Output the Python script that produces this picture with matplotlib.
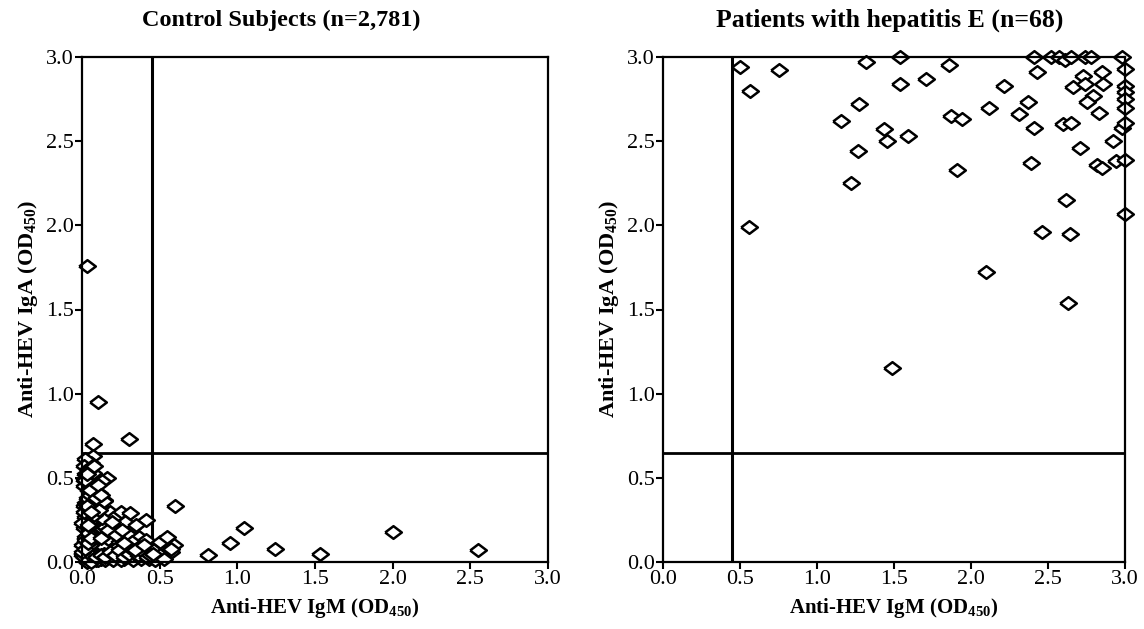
import matplotlib
matplotlib.use("Agg")
import matplotlib.pyplot as plt

plt.rcParams['font.family'] = ['Liberation Serif', 'DejaVu Serif']
plt.rcParams['mathtext.fontset'] = 'custom'
plt.rcParams['mathtext.rm'] = 'Liberation Serif:bold'
plt.rcParams['mathtext.it'] = 'Liberation Serif:bold'
plt.rcParams['mathtext.bf'] = 'Liberation Serif:bold'

# ---- data ----
titles = ["Control Subjects (n=2,781)", "Patients with hepatitis E (n=68)"]
xlabel = "Anti-HEV IgM (OD$_{450}$)"
ylabel = "Anti-HEV IgA (OD$_{450}$)"
ticks = [0.0, 0.5, 1.0, 1.5, 2.0, 2.5, 3.0]
tick_labels = ["0.0", "0.5", "1.0", "1.5", "2.0", "2.5", "3.0"]
igm_cutoff = 0.45
iga_cutoff = 0.65

control_igm = [0.03, 0.10, 0.07, 0.30, 0.60, 1.04, 0.95, 0.81, 1.24, 1.53, 2.00, 2.55,
               0.54, 0.57, 0.48, 0.52,
               0.07, 0.06, 0.02, 0.07, 0.16, 0.13, 0.06, 0.11, 0.05, 0.07, 0.04,
               0.18, 0.25, 0.31, 0.41, 0.12, 0.07, 0.15, 0.21, 0.26, 0.32, 0.17,
               0.09, 0.04, 0.23, 0.30, 0.37, 0.07, 0.16, 0.24, 0.32, 0.41, 0.04,
               0.13, 0.21, 0.30, 0.37, 0.50, 0.55, 0.59, 0.45, 0.08, 0.14, 0.23,
               0.30, 0.41, 0.00, 0.02, 0.02, 0.01, 0.01,
               0.03, 0.05, 0.02, 0.04, 0.08, 0.10, 0.03, 0.06, 0.01, 0.02, 0.05,
               0.09, 0.12, 0.03, 0.00, 0.01, 0.04, 0.06, 0.11, 0.19, 0.27, 0.35,
               0.20, 0.28, 0.10, 0.14, 0.02, 0.04, 0.08, 0.01, 0.03, 0.00, 0.05,
               0.10, 0.15, 0.20, 0.25, 0.33, 0.38, 0.43, 0.47, 0.02, 0.06, 0.09,
               0.01, 0.03, 0.05, 0.02, 0.04, 0.06, 0.08, 0.01, 0.03, 0.05, 0.07,
               0.02, 0.04, 0.00, 0.02, 0.04, 0.06, 0.09, 0.12, 0.15, 0.18, 0.21,
               0.24, 0.27, 0.30, 0.33, 0.36, 0.39, 0.42, 0.12, 0.17, 0.22, 0.27,
               0.34, 0.40, 0.44, 0.13, 0.19, 0.26, 0.08, 0.11, 0.14, 0.35, 0.50,
               0.46, 0.53, 0.57, 0.05, 0.09, 0.03, 0.08, 0.10, 0.12, 0.06, 0.04]
control_iga = [1.76, 0.95, 0.70, 0.73, 0.33, 0.20, 0.11, 0.04, 0.075, 0.05, 0.18, 0.07,
               0.11, 0.06, 0.09, 0.03,
               0.63, 0.59, 0.61, 0.53, 0.50, 0.48, 0.47, 0.41, 0.39, 0.35, 0.31,
               0.30, 0.30, 0.29, 0.25, 0.25, 0.21, 0.21, 0.22, 0.20, 0.20, 0.18,
               0.17, 0.16, 0.17, 0.16, 0.15, 0.13, 0.13, 0.12, 0.12, 0.13, 0.09,
               0.09, 0.08, 0.08, 0.09, 0.12, 0.15, 0.10, 0.08, 0.06, 0.05, 0.04,
               0.05, 0.06, 0.04, 0.15, 0.27, 0.45, 0.57,
               0.02, 0.01, 0.05, 0.08, 0.02, 0.03, 0.10, 0.12, 0.20, 0.35, 0.25,
               0.01, 0.02, 0.00, 0.10, 0.33, 0.43, 0.28, 0.33, 0.02, 0.02, 0.03,
               0.26, 0.24, 0.27, 0.37, 0.52, 0.55, 0.44, 0.49, 0.38, 0.23, 0.18,
               0.01, 0.01, 0.01, 0.01, 0.01, 0.02, 0.02, 0.01, 0.06, 0.00, 0.04,
               0.03, 0.06, 0.10, 0.13, 0.17, 0.22, 0.26, 0.30, 0.33, 0.40, 0.44,
               0.49, 0.54, 0.06, 0.08, 0.11, 0.14, 0.03, 0.04, 0.03, 0.06, 0.04,
               0.07, 0.03, 0.05, 0.07, 0.04, 0.06, 0.03, 0.14, 0.19, 0.16, 0.11,
               0.07, 0.10, 0.04, 0.26, 0.24, 0.19, 0.28, 0.31, 0.36, 0.22, 0.04,
               0.05, 0.02, 0.08, 0.43, 0.38, 0.52, 0.57, 0.46, 0.40, 0.30, 0.22]

patient_igm = [0.50, 0.565, 0.75, 0.56,
               1.318, 1.539, 1.857, 2.41, 2.52, 2.57, 2.61, 2.65, 2.74, 2.78, 2.98, 3.00,
               2.43, 1.539, 1.71, 1.275, 1.156, 1.437, 1.456, 1.593, 1.268, 1.22,
               1.87, 1.94, 2.12, 2.216, 1.91, 2.37, 2.31, 2.41, 2.39, 2.62, 2.46, 2.64,
               2.10, 2.60, 2.65, 2.71, 2.66, 2.73, 2.74, 2.79, 2.755, 2.83, 2.85, 2.86,
               2.92, 2.82, 2.85, 2.94, 3.00, 3.00, 3.00, 3.00, 2.98, 3.00, 3.00, 3.00,
               2.63, 1.485]
patient_iga = [2.94, 2.80, 2.92, 1.99,
               2.97, 3.00, 2.95, 3.00, 3.00, 3.00, 2.98, 3.00, 3.00, 3.00, 3.00, 2.93,
               2.91, 2.84, 2.87, 2.72, 2.62, 2.57, 2.50, 2.53, 2.44, 2.25,
               2.65, 2.63, 2.70, 2.83, 2.33, 2.73, 2.66, 2.58, 2.37, 2.15, 1.96, 1.95,
               1.72, 2.60, 2.61, 2.46, 2.82, 2.89, 2.84, 2.77, 2.73, 2.67, 2.91, 2.84,
               2.50, 2.36, 2.34, 2.38, 2.83, 2.79, 2.75, 2.70, 2.58, 2.61, 2.39, 2.07,
               1.54, 1.15]

# ---- figure ----
fig = plt.figure(figsize=(11.44, 6.29), dpi=100)
axL = fig.add_axes([82/1144, 1-562/629, 466/1144, 505/629])
axR = fig.add_axes([663/1144, 1-562/629, 462/1144, 505/629])

diamond = [(-1, 0), (0, 0.76), (1, 0), (0, -0.76), (-1, 0)]

for ax, xs, ys, title, tx, tsize in [(axL, control_igm, control_iga, titles[0], 0.427, 17.5),
                                     (axR, patient_igm, patient_iga, titles[1], 0.49, 18.5)]:
    ax.set_xlim(0, 3.0)
    ax.set_ylim(0, 3.0)
    ax.plot(xs, ys, linestyle='none', marker=diamond, markersize=12,
            markerfacecolor='white', markeredgecolor='black', markeredgewidth=1.8,
            clip_on=False, zorder=3)
    ax.axvline(igm_cutoff, color='black', lw=2.2, zorder=2)
    ax.axhline(iga_cutoff, color='black', lw=2.0, zorder=2)
    for s in ax.spines.values():
        s.set_linewidth(1.6)
        s.set_zorder(4)
    ax.set_xticks(ticks)
    ax.set_xticklabels(tick_labels)
    ax.set_yticks(ticks)
    ax.set_yticklabels(tick_labels)
    ax.tick_params(direction='out', length=5, width=1.5, labelsize=16, pad=1)
    ax.set_xlabel(xlabel, fontsize=15, fontweight='bold', labelpad=5)
    ax.set_ylabel(ylabel, fontsize=16, fontweight='bold', labelpad=4)
    ax.set_title(title, fontsize=tsize, fontweight='bold', x=tx, pad=22)

fig.savefig("out.png", dpi=100, facecolor='white')
